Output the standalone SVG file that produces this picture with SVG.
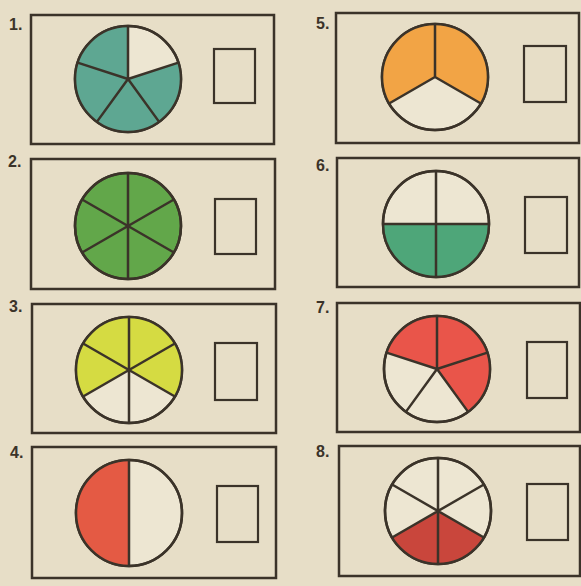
<svg xmlns="http://www.w3.org/2000/svg" width="581" height="586" viewBox="0 0 581 586">
<style>
.frame{fill:none;stroke:#3b3329;stroke-width:2.5}
.ans{fill:none;stroke:#3b3329;stroke-width:2.2}
.disc{fill:#ede6d2;stroke:#3b3329;stroke-width:2.5}
.rim{fill:none;stroke:#3b3329;stroke-width:2.5}
.rad{stroke:#3b3329;stroke-width:2.5;fill:none}
.num{font-family:"Liberation Sans",Arial,sans-serif;font-weight:bold;font-size:16px;fill:#3b3329}
</style>
<rect width="581" height="586" fill="#e7dec7"/>
<g id="task1">
<text class="num" x="9" y="30">1.</text>
<rect class="frame" x="31" y="15" width="243" height="129"/>
<circle class="disc" cx="128" cy="79" r="53"/>
<path d="M128,79 L178.41,62.62 A53,53 0 1 1 128,26 Z" fill="#5ea792"/>
<path class="rad" d="M128,79 L128,26 M128,79 L178.41,62.62 M128,79 L159.15,121.88 M128,79 L96.85,121.88 M128,79 L77.59,62.62"/>
<circle class="rim" cx="128" cy="79" r="53"/>
<rect class="ans" x="214" y="49" width="41" height="54"/>
</g>
<g id="task2">
<text class="num" x="8" y="167">2.</text>
<rect class="frame" x="31" y="159" width="244" height="130"/>
<circle class="disc" cx="128" cy="226" r="53" style="fill:#62a74a"/>
<path class="rad" d="M128,173 L128,279 M173.9,199.5 L82.1,252.5 M173.9,252.5 L82.1,199.5"/>
<circle class="rim" cx="128" cy="226" r="53"/>
<rect class="ans" x="215" y="199" width="41" height="55"/>
</g>
<g id="task3">
<text class="num" x="9" y="312">3.</text>
<rect class="frame" x="32" y="304" width="244" height="129"/>
<circle class="disc" cx="129" cy="370" r="53"/>
<path d="M129,370 L83.1,396.5 A53,53 0 1 1 174.9,396.5 Z" fill="#d5db42"/>
<path class="rad" d="M129,317 L129,423 M174.9,343.5 L83.1,396.5 M174.9,396.5 L83.1,343.5"/>
<circle class="rim" cx="129" cy="370" r="53"/>
<rect class="ans" x="215" y="343" width="42" height="57"/>
</g>
<g id="task4">
<text class="num" x="10" y="458">4.</text>
<rect class="frame" x="32" y="447" width="244" height="131"/>
<circle class="disc" cx="129" cy="513" r="53"/>
<path d="M129,460 A53,53 0 0 0 129,566 Z" fill="#e45a44"/>
<path class="rad" d="M129,460 L129,566"/>
<circle class="rim" cx="129" cy="513" r="53"/>
<rect class="ans" x="217" y="486" width="41" height="56"/>
</g>
<g id="task5">
<text class="num" x="316" y="29">5.</text>
<rect class="frame" x="336" y="13" width="243" height="130"/>
<circle class="disc" cx="435" cy="77" r="53"/>
<path d="M435,77 L389.1,103.5 A53,53 0 1 1 480.9,103.5 Z" fill="#f2a445"/>
<path class="rad" d="M435,77 L435,24 M435,77 L480.9,103.5 M435,77 L389.1,103.5"/>
<circle class="rim" cx="435" cy="77" r="53"/>
<rect class="ans" x="524" y="46" width="42" height="56"/>
</g>
<g id="task6">
<text class="num" x="316" y="171">6.</text>
<rect class="frame" x="337" y="158" width="242" height="129"/>
<circle class="disc" cx="436" cy="224" r="53"/>
<path d="M383,224 A53,53 0 0 0 489,224 Z" fill="#4ea679"/>
<path class="rad" d="M436,171 L436,277 M383,224 L489,224"/>
<circle class="rim" cx="436" cy="224" r="53"/>
<rect class="ans" x="525" y="197" width="42" height="56"/>
</g>
<g id="task7">
<text class="num" x="316" y="313">7.</text>
<rect class="frame" x="337" y="303" width="243" height="129"/>
<circle class="disc" cx="437" cy="369" r="53"/>
<path d="M437,369 L386.59,352.62 A53,53 0 1 1 468.15,411.88 Z" fill="#e9554a"/>
<path class="rad" d="M437,369 L437,316 M437,369 L487.41,352.62 M437,369 L468.15,411.88 M437,369 L405.85,411.88 M437,369 L386.59,352.62"/>
<circle class="rim" cx="437" cy="369" r="53"/>
<rect class="ans" x="527" y="342" width="40" height="56"/>
</g>
<g id="task8">
<text class="num" x="316" y="457">8.</text>
<rect class="frame" x="339" y="446" width="241" height="130"/>
<circle class="disc" cx="438" cy="511" r="53"/>
<path d="M438,511 L483.9,537.5 A53,53 0 0 1 392.1,537.5 Z" fill="#c9463c"/>
<path class="rad" d="M438,458 L438,564 M483.9,484.5 L392.1,537.5 M483.9,537.5 L392.1,484.5"/>
<circle class="rim" cx="438" cy="511" r="53"/>
<rect class="ans" x="527" y="484" width="41" height="56"/>
</g>
</svg>
